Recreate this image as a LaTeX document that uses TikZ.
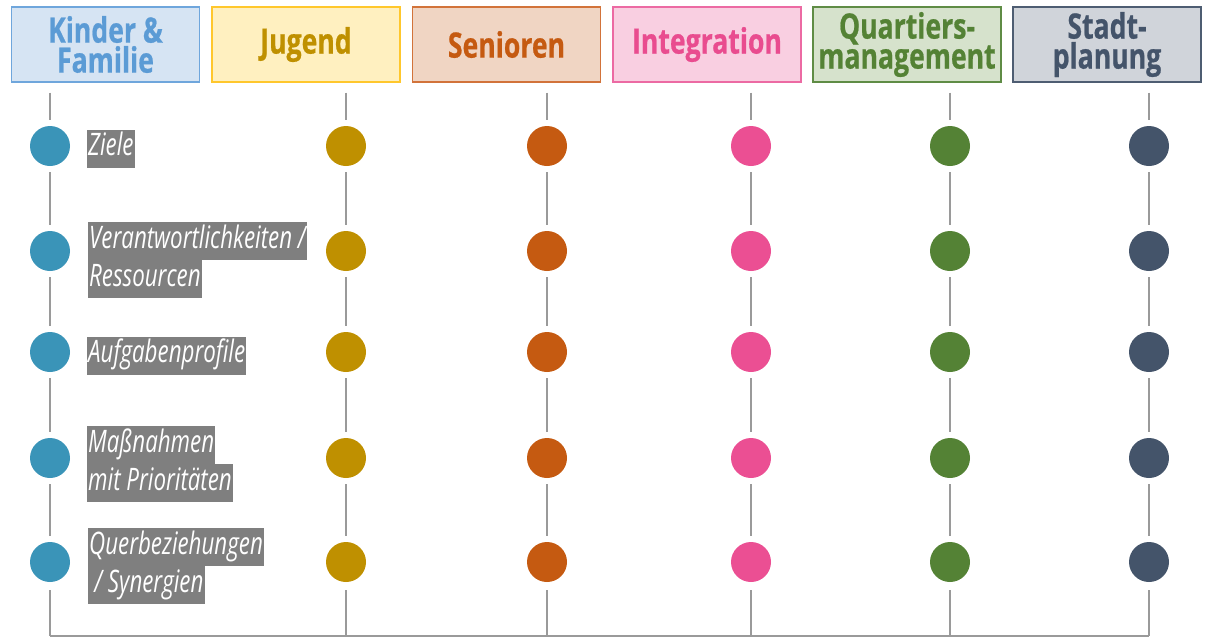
\documentclass[tikz,border=0pt]{standalone}
\usepackage{fontspec}
\setmainfont{Open Sans}
\newfontfamily\headFont[FakeStretch=0.76,BoldFeatures={FakeBold=0.6}]{Open Sans}
\newfontfamily\labelFont[FakeStretch=0.72]{Open Sans}
\usetikzlibrary{positioning}

\definecolor{kinderFill}{HTML}{D6E4F3}
\definecolor{kinderLine}{HTML}{6FA6DC}
\definecolor{kinderText}{HTML}{5B9BD5}
\definecolor{kinderDot}{HTML}{3A94B8}
\definecolor{jugendFill}{HTML}{FFF0C0}
\definecolor{jugendLine}{HTML}{FFC72C}
\definecolor{jugendText}{HTML}{BF9000}
\definecolor{jugendDot}{HTML}{BF9000}
\definecolor{seniorenFill}{HTML}{F0D5C3}
\definecolor{seniorenLine}{HTML}{D2733A}
\definecolor{seniorenText}{HTML}{C55A11}
\definecolor{seniorenDot}{HTML}{C55A11}
\definecolor{integrFill}{HTML}{F9CFE1}
\definecolor{integrLine}{HTML}{EC6AA3}
\definecolor{integrText}{HTML}{E94C8F}
\definecolor{integrDot}{HTML}{EB4F93}
\definecolor{quartierFill}{HTML}{D6E2CC}
\definecolor{quartierLine}{HTML}{5F8C45}
\definecolor{quartierText}{HTML}{548235}
\definecolor{quartierDot}{HTML}{548235}
\definecolor{stadtFill}{HTML}{D0D4DA}
\definecolor{stadtLine}{HTML}{4E5D72}
\definecolor{stadtText}{HTML}{44546A}
\definecolor{stadtDot}{HTML}{44546A}
\definecolor{labelGray}{HTML}{7F7F7F}
\definecolor{linkGray}{HTML}{9A9A9A}

\def\rowList{146,251,352,458,562}

\begin{document}
\begin{tikzpicture}[x=1pt,y=-1pt,
        header/.style={draw,line width=1.4pt,minimum width=188pt,minimum height=75pt,
            align=center,font=\headFont\bfseries\fontsize{35}{30}\selectfont},
        dot/.style={circle,minimum size=40pt,inner sep=0pt},
        link/.style={draw=linkGray,line width=1.3pt},
        lbl/.style={fill=labelGray,text=white,anchor=west,inner xsep=1pt,inner ysep=4pt,
            text height=22pt,text depth=8pt,font=\labelFont\itshape\fontsize{31}{32}\selectfont}]
    \useasboundingbox (0,0) rectangle (1206,638);

    \foreach \n/\hx/\cx/\col/\txt in {kf/105.5/50/kinder/{Kinder \&\\Familie},
            jg/306/346/jugend/{Jugend},
            sn/506.5/547/senioren/{Senioren},
            ig/707/751/integr/{Integration},
            qm/907/950/quartier/{Quartiers-\\management},
            sp/1107/1149/stadt/{Stadt-\\planung}}{%
            \node[header,draw=\col Line,fill=\col Fill,text=\col Text] (\n H) at (\hx,44.5) {\txt};

            \foreach \y [count=\r] in \rowList {%
                    \node[dot,fill=\col Dot] (\n\r) at (\cx,\y) {};
                }
            \coordinate (\n B) at (\cx,636);

            \draw[link,shorten <=10pt,shorten >=6pt] (\n1 |- \n H.south) -- (\n1);
            \foreach \r [evaluate=\r as \s using int(\r+1)] in {1,...,4}{%
                    \draw[link,shorten <=6pt,shorten >=6pt] (\n\r) -- (\n\s);
                }
            \draw[link,shorten <=8pt] (\n5) -- (\n B);
        }
    \draw[link] (kfB) -- (spB);

    \node[lbl] (zl) at (87,148.5) {Ziele};
    \node[lbl] (vr) at (88,241) {Verantwortlichkeiten /};
    \node[lbl,below=0pt of vr.south west,anchor=north west] (vrB) {Ressourcen};
    \node[lbl] (ap) at (87,355.5) {Aufgabenprofile};
    \node[lbl] (mn) at (87,445) {Maßnahmen};
    \node[lbl,below=0pt of mn.south west,anchor=north west] (mnB) {mit Prioritäten};
    \node[lbl] (qb) at (88,547) {Querbeziehungen};
    \node[lbl,below=0pt of qb.south west,anchor=north west] (qbB) {\,/ Synergien};
\end{tikzpicture}
\end{document}
